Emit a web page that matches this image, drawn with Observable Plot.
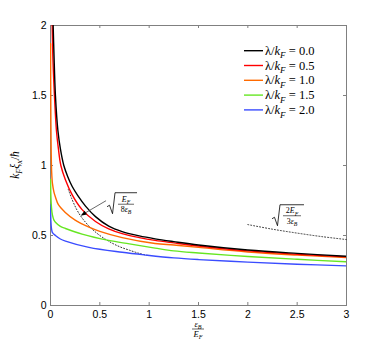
<!DOCTYPE html>
<html><head><meta charset="utf-8">
<script src="https://cdn.jsdelivr.net/npm/d3@7"></script>
<script src="https://cdn.jsdelivr.net/npm/@observablehq/plot@0.6"></script>
<style>body{margin:0;background:#fff}</style>
</head><body><div id="chart"></div>
<script>
// ---- data ----
const lambdaLabels = ["0.0", "0.5", "1.0", "1.5", "2.0"];
const seriesColors = ["#000000", "#ff0000", "#ff6a00", "#66e622", "#3a4cff"];

const xL00 = [0.027, 0.035, 0.05, 0.075, 0.1, 0.135, 0.175, 0.22, 0.277, 0.355, 0.456, 0.59, 0.726, 0.9, 1.06, 1.25, 1.5, 2.0, 2.5, 3.0];
const yL00 = [2.0, 1.8, 1.5, 1.25, 1.12, 1.0, 0.92, 0.85, 0.785, 0.71, 0.635, 0.567, 0.528, 0.497, 0.476, 0.456, 0.432, 0.396, 0.372, 0.352];

const xL05 = [0.017, 0.025, 0.04, 0.06, 0.08, 0.105, 0.15, 0.22, 0.32, 0.456, 0.59, 0.726, 0.9, 1.06, 1.25, 1.5, 2.0, 2.5, 3.0];
const yL05 = [2.0, 1.75, 1.5, 1.25, 1.12, 1.0, 0.9, 0.79, 0.685, 0.6, 0.547, 0.513, 0.485, 0.465, 0.447, 0.425, 0.39, 0.366, 0.347];

const xL10 = [0.001, 0.002, 0.004, 0.007, 0.012, 0.02, 0.035, 0.05, 0.08, 0.15, 0.25, 0.39, 0.5, 0.726, 1.06, 1.25, 1.5, 2.0, 2.5, 3.0];
const yL10 = [1.87, 1.6, 1.3, 1.1, 0.95, 0.87, 0.81, 0.775, 0.72, 0.665, 0.61, 0.56, 0.53, 0.485, 0.443, 0.432, 0.415, 0.382, 0.36, 0.342];

const xL15 = [0.001, 0.004, 0.01, 0.02, 0.035, 0.05, 0.1, 0.152, 0.32, 0.59, 0.8, 1.06, 1.25, 1.5, 2.0, 2.5, 3.0];
const yL15 = [0.9, 0.78, 0.7, 0.645, 0.61, 0.595, 0.565, 0.55, 0.51, 0.465, 0.44, 0.41, 0.39, 0.375, 0.35, 0.33, 0.312];

const xL20 = [0.001, 0.004, 0.01, 0.02, 0.05, 0.1, 0.152, 0.389, 0.726, 0.97, 1.25, 1.5, 2.0, 2.5, 3.0];
const yL20 = [0.72, 0.6, 0.55, 0.52, 0.5, 0.475, 0.46, 0.415, 0.38, 0.36, 0.34, 0.328, 0.31, 0.295, 0.283];

// dotted asymptotes
const xAsym1 = [0.18, 0.22, 0.27, 0.32, 0.4, 0.5, 0.6, 0.7, 0.8, 0.9, 1.0];
const yAsym1 = [0.83, 0.755, 0.68, 0.625, 0.56, 0.5, 0.455, 0.42, 0.395, 0.372, 0.355];
const xAsym2 = [2.0, 2.25, 2.5, 2.75, 3.0];
const yAsym2 = [0.578, 0.545, 0.517, 0.492, 0.471];

const xTicks = [0, 0.5, 1, 1.5, 2, 2.5, 3];
const xTickLabels = ["0", "0.5", "1", "1.5", "2", "2.5", "3"];
const yTicks = [0, 0.5, 1, 1.5, 2];
const yTickLabels = ["0", "0.5", "1", "1.5", "2"];

// ---- build ----
const xs = [xL00, xL05, xL10, xL15, xL20];
const ys = [yL00, yL05, yL10, yL15, yL20];
const seriesRows = xs.map((xa, k) => xa.map((x, i) => ({x, y: ys[k][i]})));
const asym1 = xAsym1.map((x, i) => ({x, y: yAsym1[i]}));
const asym2 = xAsym2.map((x, i) => ({x, y: yAsym2[i]}));

const W = 382, H = 344, ML = 50, MR = 36, MT = 25, MB = 39;
const frameW = W - ML - MR, frameH = H - MT - MB;
const gray = "#808080";
const tick = 3;

const plot = Plot.plot({
  width: W, height: H,
  marginLeft: ML, marginRight: MR, marginTop: MT, marginBottom: MB,
  x: {domain: [0, 3]},
  y: {domain: [0, 2]},
  style: {fontFamily: "'Liberation Sans', Arial, sans-serif", fontSize: "10.5px", color: "#000", background: "#fff"},
  marks: [
    Plot.frame({stroke: gray}),
    Plot.ruleX(xTicks, {x: d => d, insetTop: frameH - tick, stroke: gray}),
    Plot.ruleX(xTicks, {x: d => d, insetBottom: frameH - tick, stroke: gray}),
    Plot.ruleY(yTicks, {y: d => d, insetRight: frameW - tick, stroke: gray}),
    Plot.ruleY(yTicks, {y: d => d, insetLeft: frameW - tick, stroke: gray}),
    Plot.axisX({ticks: xTicks, tickFormat: d => xTickLabels[xTicks.indexOf(d)], tickSize: 0, tickPadding: 5, label: null}),
    Plot.axisY({ticks: yTicks, tickFormat: d => yTickLabels[yTicks.indexOf(d)], tickSize: 0, tickPadding: 4, label: null}),
    Plot.line(asym1, {x: "x", y: "y", stroke: "#333", strokeWidth: 1, strokeDasharray: "1,2", curve: "catmull-rom"}),
    Plot.line(asym2, {x: "x", y: "y", stroke: "#333", strokeWidth: 1, strokeDasharray: "1,2", curve: "catmull-rom"}),
    ...seriesRows.slice().reverse().map((rows, j) => {
      const k = seriesRows.length - 1 - j;
      return Plot.line(rows, {x: "x", y: "y", stroke: seriesColors[k], strokeWidth: 1.4, curve: "catmull-rom", clip: true});
    })
  ]
});

document.getElementById("chart").appendChild(plot);

// ---- math annotations & legend ----
const sx = plot.scale("x"), sy = plot.scale("y");
const svg = d3.select(plot);
const g = svg.append("g");
const serif = "'Liberation Serif', 'DejaVu Serif', serif";

function mtext(x, y, parts, size, anchor, transform) {
  const t = g.append("text").attr("x", x).attr("y", y)
    .style("font-family", serif).style("font-size", size + "px")
    .attr("text-anchor", anchor || "start").attr("fill", "#000");
  if (transform) t.attr("transform", transform);
  let shift = 0;
  for (const p of parts) {
    const ts = t.append("tspan").text(p.t);
    ts.style("font-style", p.it ? "italic" : "normal");
    const target = p.sub ? size * 0.3 : 0;
    if (target !== shift) { ts.attr("dy", target - shift); shift = target; }
    if (p.sub) ts.style("font-size", (size * 0.72) + "px");
  }
  return t;
}
function frac(cx, barY, num, den, size, barW) {
  mtext(cx, barY - 2.3, num, size, "middle");
  g.append("line").attr("x1", cx - barW / 2).attr("x2", cx + barW / 2)
    .attr("y1", barY).attr("y2", barY).attr("stroke", "#000").attr("stroke-width", 0.6);
  mtext(cx, barY + 7.8, den, size, "middle");
}
function radical(L, T, Wd) {
  g.append("path")
    .attr("d", `M${L - 1},${T + 14} L${L + 1.5},${T + 12.5} L${L + 4.5},${T + 21} L${L + 7},${T} L${L + Wd},${T}`)
    .attr("fill", "none").attr("stroke", "#000").attr("stroke-width", 0.8);
}

// annotation 1: sqrt(E_F / 8 eps_B)
{
  const L = sx.apply(0.588), T = sy.apply(0.802), Wd = 29;
  radical(L, T, Wd);
  frac(L + 7 + (Wd - 7) / 2, T + 11.5,
    [{t: "E", it: 1}, {t: "F", it: 1, sub: 1}],
    [{t: "8"}, {t: "ε", it: 1}, {t: "B", it: 1, sub: 1}], 8, 16);
  const x1 = sx.apply(0.568), y1 = sy.apply(0.745), x2 = sx.apply(0.31), y2 = sy.apply(0.638);
  const ang = Math.atan2(y2 - y1, x2 - x1), hl = 6, hw = 2.2;
  const bx = x2 - hl * Math.cos(ang), by = y2 - hl * Math.sin(ang);
  g.append("line").attr("x1", x1).attr("y1", y1).attr("x2", bx).attr("y2", by).attr("stroke", "#444").attr("stroke-width", 0.8);
  g.append("path").attr("d", `M${x2},${y2} L${bx + hw * Math.sin(ang)},${by - hw * Math.cos(ang)} L${bx - hw * Math.sin(ang)},${by + hw * Math.cos(ang)} Z`).attr("fill", "#000");
}
// annotation 2: sqrt(2E_F / 3 eps_B)
{
  const L = sx.apply(2.26), T = sy.apply(0.716), Wd = 31;
  radical(L, T, Wd);
  frac(L + 7 + (Wd - 7) / 2, T + 11,
    [{t: "2"}, {t: "E", it: 1}, {t: "F", it: 1, sub: 1}],
    [{t: "3"}, {t: "ε", it: 1}, {t: "B", it: 1, sub: 1}], 8, 18);
}

// x-axis label: eps_B / E_F
frac(sx.apply(1.5), H - 15, [{t: "ε", it: 1}, {t: "B", it: 1, sub: 1}], [{t: "E", it: 1}, {t: "F", it: 1, sub: 1}], 8.5, 12);

// y-axis label
mtext(0, 0, [{t: "k", it: 1}, {t: "F", it: 1, sub: 1}, {t: "ξ", it: 1}, {t: "x", it: 1, sub: 1}, {t: "/"}, {t: "ħ", it: 1}], 11.5, "middle",
  `translate(19,${sy.apply(1)}) rotate(-90)`);

// legend
const legX0 = 244, legX1 = 263, legTxt = 265, legY0 = 50.7, legDy = 14.8;
lambdaLabels.forEach((lab, i) => {
  const yy = legY0 + i * legDy;
  g.append("line").attr("x1", legX0).attr("x2", legX1).attr("y1", yy).attr("y2", yy)
    .attr("stroke", seriesColors[i]).attr("stroke-width", 1.4);
  mtext(legTxt, yy + 4, [{t: "λ/"}, {t: "k", it: 1}, {t: "F", it: 1, sub: 1}, {t: " = " + lab}], 12.5, "start");
});
</script>
</body></html>
